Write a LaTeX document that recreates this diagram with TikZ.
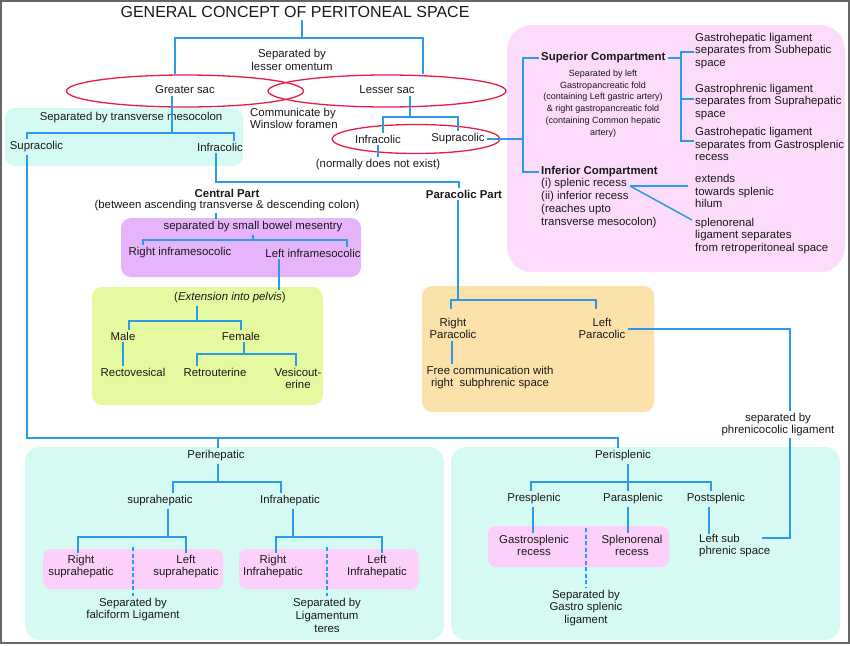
\documentclass[tikz,border=0pt]{standalone}
\usepackage{fontspec}
\setmainfont{Liberation Sans}
\usetikzlibrary{shapes.geometric}
\definecolor{lb}{RGB}{42,155,230}
\definecolor{redc}{RGB}{232,28,72}
\definecolor{cyanf}{RGB}{212,250,243}
\definecolor{pinkf}{RGB}{253,219,250}
\definecolor{pinks}{RGB}{252,208,250}
\definecolor{purf}{RGB}{229,180,250}
\definecolor{grnf}{RGB}{229,250,160}
\definecolor{orgf}{RGB}{252,226,170}
\definecolor{txtc}{RGB}{25,25,25}
\begin{document}
\begin{tikzpicture}[x=1pt,y=-1pt,
  t/.style={font=\fontsize{11.4}{12.8}\selectfont, align=center, inner sep=2pt, text=txtc},
  tl/.style={t, align=left},
  tb/.style={t, font=\fontsize{11.4}{12.8}\selectfont\bfseries},
  ts/.style={t, font=\fontsize{9}{11.8}\selectfont},
  conn/.style={draw=lb, line width=1.5pt},
  dsh/.style={draw=lb, line width=1.5pt, dash pattern=on 4pt off 2.5pt},
  ell/.style={ellipse, draw=redc, line width=1.3pt, inner sep=0pt},
  bx/.style={rounded corners=#1}
]
\useasboundingbox (0,0) rectangle (850,645);
\draw[black!60, line width=1.2pt] (1,1) rectangle (849,643);

% ---------- background boxes
\fill[cyanf, bx=10pt] (5,108) rectangle (243,166);
\fill[pinkf, bx=25pt] (507,25) rectangle (845,272);
\fill[purf, bx=10pt] (121,218) rectangle (361,277);
\fill[grnf, bx=10pt] (92,287) rectangle (323,405);
\fill[orgf, bx=10pt] (422,286) rectangle (654,412);
\fill[cyanf, bx=15pt] (25,447) rectangle (444,640);
\fill[cyanf, bx=15pt] (451,447) rectangle (840,640);
\fill[pinks, bx=8pt] (43,549) rectangle (223,589);
\fill[pinks, bx=8pt] (239,549) rectangle (419,589);
\fill[pinks, bx=8pt] (488,526) rectangle (669,567);

% ---------- ellipses
\node[ell, minimum width=237pt, minimum height=32pt] (gsell) at (185,91) {};
\node[ell, minimum width=238pt, minimum height=32pt] (lsell) at (387,91) {};
\node[ell, minimum width=168pt, minimum height=29pt] (coell) at (416,139) {};

% ---------- text nodes
\node[t, font=\fontsize{16}{18}\selectfont] (title) at (295,12) {GENERAL CONCEPT OF PERITONEAL SPACE};
\node[t] (sepLO) at (292,60) {Separated by\\lesser omentum};
\node[t] (gs) at (185,90) {Greater sac};
\node[t] (ls) at (387,90) {Lesser sac};
\node[tl, anchor=west, inner sep=0pt] (comm) at (250,118.5) {Communicate by\\Winslow foramen};
\node[t] (stm) at (131,118) {Separated by transverse mesocolon};
\node[t] (supL) at (36.5,147) {Supracolic};
\node[t] (infL) at (220,147) {Infracolic};
\node[t] (infS) at (378,139) {Infracolic};
\node[t] (supS) at (458,139) {Supracolic};
\node[t] (nde) at (378,165) {(normally does not exist)};

\node[tb, anchor=west] (supC) at (539,58) {Superior Compartment};
\node[ts] (sepGF) at (603,103.5) {Separated by left\\Gastropancreatic fold\\(containing Left gastric artery)\\\& right gastropancreatic fold\\(containing Common hepatic\\artery)};
\node[tl, anchor=west, inner sep=1pt] (g1) at (694,51) {Gastrohepatic ligament\\separates from Subhepatic\\space};
\node[tl, anchor=west, inner sep=1pt] (g2) at (694,102) {Gastrophrenic ligament\\separates from Suprahepatic\\space};
\node[tl, anchor=west, inner sep=1pt] (g3) at (694,144) {Gastrohepatic ligament\\separates from Gastrosplenic\\recess};
\node[tb, anchor=west] (infC) at (539,172) {Inferior Compartment};
\node[tl, anchor=west] (infList) at (539,203) {(i) splenic recess\\(ii) inferior recess\\(reaches upto\\transverse mesocolon)};
\node[tl, anchor=west, inner sep=1pt] (ext) at (694,191) {extends\\towards splenic\\hilum};
\node[tl, anchor=west, inner sep=1pt] (spl) at (694,236) {splenorenal\\ligament separates\\from retroperitoneal space};

\node[tb] (central) at (227,193) {Central Part};
\node[t] (betw) at (227,205.5) {(between ascending transverse \& descending colon)};
\node[tb] (paraP) at (464,194) {Paracolic Part};
\node[t] (sbm) at (253,227) {separated by small bowel mesentry};
\node[t] (rim) at (180,253) {Right inframesocolic};
\node[t] (lim) at (313,253) {Left inframesocolic};
\node[t] (extp) at (230,298) {(\textit{Extension into pelvis})};
\node[t] (male) at (123,336) {Male};
\node[t] (female) at (241,336) {Female};
\node[t] (recto) at (133,372) {Rectovesical};
\node[t] (retro) at (215,372) {Retrouterine};
\node[t] (vesico) at (298,378.5) {Vesicout-\\erine};
\node[t] (rpc) at (453,328.5) {Right\\Paracolic};
\node[t] (lpc) at (602,328.5) {Left\\Paracolic};
\node[t] (free) at (490,377.5) {Free communication with\\right\ \ subphrenic space};
\node[t] (phren) at (778,424.5) {separated by\\phrenicocolic ligament};

\node[t] (perih) at (216,456) {Perihepatic};
\node[t] (supra) at (160,501) {suprahepatic};
\node[t] (infra) at (290,501) {Infrahepatic};
\node[t] (rsh) at (81,566.5) {Right\\suprahepatic};
\node[t] (lsh) at (186,566.5) {Left\\suprahepatic};
\node[t] (falc) at (133,609.5) {Separated by\\falciform Ligament};
\node[t] (rih) at (273,566.5) {Right\\Infrahepatic};
\node[t] (lih) at (377,566.5) {Left\\Infrahepatic};
\node[t] (teres) at (327,615.5) {Separated by\\Ligamentum\\teres};

\node[t] (peris) at (623,456) {Perisplenic};
\node[t] (pres) at (534,499) {Presplenic};
\node[t] (paras) at (633,499) {Parasplenic};
\node[t] (posts) at (716,499) {Postsplenic};
\node[t] (gsr) at (534,545.5) {Gastrosplenic\\recess};
\node[t] (srr) at (632,545.5) {Splenorenal\\recess};
\node[t] (gsl) at (586,608) {Separated by\\Gastro splenic\\ligament};
\node[tl, anchor=west, inner sep=0pt] (lsp) at (699,545.5) {Left sub\\phrenic space};

% ---------- junction coordinates
\coordinate (jT) at (302,38); \coordinate (jTL) at (175,38); \coordinate (jTR) at (423,38);
\coordinate (jG) at (172,133); \coordinate (jGL) at (27,133); \coordinate (jGR) at (234,133);
\coordinate (jL) at (410,117); \coordinate (jLL) at (383,117); \coordinate (jLR) at (458,117);
\coordinate (jP) at (523,139); \coordinate (jPU) at (523,58); \coordinate (jPD) at (523,172);
\coordinate (jS) at (681,58); \coordinate (jS1) at (681,52); \coordinate (jS2) at (681,99); \coordinate (jS3) at (681,141);
\coordinate (jR) at (630,186); \coordinate (jR2) at (692,220); \coordinate (jR1) at (688,186);
\coordinate (jI) at (216,182); \coordinate (jI2) at (459,182);
\coordinate (jPP) at (458,300); \coordinate (jPPL) at (451,300); \coordinate (jPPR) at (596,300);
\coordinate (dRP) at (451,309); \coordinate (dLP) at (596,309);
\coordinate (jRPd) at (452,0);
\coordinate (jLP) at (790,329); \coordinate (jLP3) at (790,538); \coordinate (eLS) at (762,538);
\coordinate (jSB) at (253,240); \coordinate (jSBL) at (143,240); \coordinate (jSBR) at (347,240);
\coordinate (jLI) at (279,0);
\coordinate (jE) at (197,321); \coordinate (jEL) at (129,321); \coordinate (jER) at (241,321);
\coordinate (jM) at (123,0);
\coordinate (jFe) at (244,354); \coordinate (jFeL) at (197,354); \coordinate (jFeR) at (296,354);
\coordinate (jB) at (27,438); \coordinate (jBH) at (218,438); \coordinate (jBS) at (618,438);
\coordinate (jH) at (218,482); \coordinate (jHL) at (173,482); \coordinate (jHR) at (281,482);
\coordinate (jSH) at (168,537); \coordinate (jSHL) at (78,537); \coordinate (jSHR) at (186,537);
\coordinate (jIH) at (293,537); \coordinate (jIHL) at (276,537); \coordinate (jIHR) at (382,537);
\coordinate (jD1) at (133,547); \coordinate (jD2) at (327,547); \coordinate (jD3) at (586,528);
\coordinate (jPS) at (628,482); \coordinate (jPSL) at (531,482); \coordinate (jPSR) at (711,482);
\coordinate (jPr) at (533,0); \coordinate (jPo) at (709,0);

% ---------- connectors
\draw[conn] (title.south -| jT) -- (jT);
\draw[conn] (jTL |- gsell.north) -- (jTL) -- (jTR) -- (jTR |- lsell.north);
\draw[conn] (gs.south -| jG) -- (jG);
\draw[conn] (jGL |- supL.north) -- (jGL) -- (jGR) -- (jGR |- infL.north);
\draw[conn] (ls.south -| jL) -- (jL);
\draw[conn] (jLL |- infS.north) -- (jLL) -- (jLR) -- (jLR |- supS.north);
\draw[conn] (infS.south) -- (nde.north);
\draw[conn] (supS.east) -- (jP);
\draw[conn] (supC.west) -- (jPU) -- (jPD) -- (infC.west);
\draw[conn] (supC.east) -- (jS);
\draw[conn] (g1.west |- jS1) -- (jS1) -- (jS3) -- (g3.west |- jS3);
\draw[conn] (jS2) -- (g2.west |- jS2);
\draw[conn] (jR) -- (jR1);
\draw[conn] (jR) -- (jR2);

\draw[conn] (infL.south -| jI) -- (jI) -- (jI2) -- (jI2 |- paraP.north);
\draw[conn] (betw.south -| jI) -- (jI |- sbm.north);
\draw[conn] (paraP.south -| jPP) -- (jPP);
\draw[conn] (dRP) -- (jPPL) -- (jPPR) -- (dLP);
\draw[conn] (rpc.south -| jRPd) -- (jRPd |- free.north);
\draw[conn] (lpc.east |- jLP) -- (jLP) -- (jLP |- phren.north);
\draw[conn] (phren.south -| jLP) -- (jLP3) -- (eLS);

\draw[conn] (sbm.south -| jSB) -- (jSB);
\draw[conn] (jSBL |- rim.north) -- (jSBL) -- (jSBR) -- (jSBR |- lim.north);
\draw[conn] (lim.south -| jLI) -- (jLI |- extp.north);
\draw[conn] (extp.south -| jE) -- (jE);
\draw[conn] (jEL |- male.north) -- (jEL) -- (jER) -- (jER |- female.north);
\draw[conn] (male.south -| jM) -- (jM |- recto.north);
\draw[conn] (female.south -| jFe) -- (jFe);
\draw[conn] (jFeL |- retro.north) -- (jFeL) -- (jFeR) -- (jFeR |- vesico.north);

\draw[conn] (supL.south -| jB) -- (jB) -- (jBS) -- (jBS |- peris.north);
\draw[conn] (jBH) -- (jBH |- perih.north);
\draw[conn] (perih.south -| jH) -- (jH);
\draw[conn] (jHL |- supra.north) -- (jHL) -- (jHR) -- (jHR |- infra.north);
\draw[conn] (supra.south -| jSH) -- (jSH);
\draw[conn] (jSHL |- rsh.north) -- (jSHL) -- (jSHR) -- (jSHR |- lsh.north);
\draw[conn] (infra.south -| jIH) -- (jIH);
\draw[conn] (jIHL |- rih.north) -- (jIHL) -- (jIHR) -- (jIHR |- lih.north);
\draw[dsh] (jD1) -- (jD1 |- falc.north);
\draw[dsh] (jD2) -- (jD2 |- teres.north);

\draw[conn] (peris.south -| jPS) -- (jPS |- paras.north);
\draw[conn] (jPSL |- pres.north) -- (jPSL) -- (jPSR) -- (jPSR |- posts.north);
\draw[conn] (pres.south -| jPr) -- (jPr |- gsr.north);
\draw[conn] (paras.south -| jPS) -- (jPS |- srr.north);
\draw[conn] (posts.south -| jPo) -- (jPo |- lsp.north);
\draw[dsh] (jD3) -- (jD3 |- gsl.north);
\end{tikzpicture}
\end{document}
